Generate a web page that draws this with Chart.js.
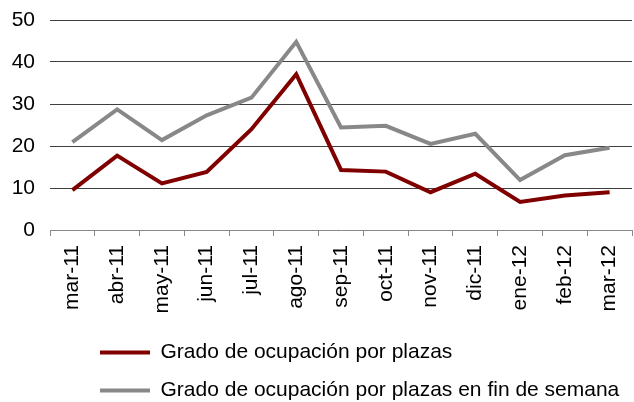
<!DOCTYPE html>
<html>
<head>
<meta charset="utf-8">
<script src="https://cdn.jsdelivr.net/npm/chart.js@4"></script>
<style>
  html, body { margin: 0; padding: 0; background: #fff; }
  #wrap { width: 634px; height: 402px; }
</style>
</head>
<body>
<div id="wrap"><canvas id="ocupacion"></canvas></div>
<script>
// datos
const months = ['mar-11', 'abr-11', 'may-11', 'jun-11', 'jul-11', 'ago-11', 'sep-11',
  'oct-11', 'nov-11', 'dic-11', 'ene-12', 'feb-12', 'mar-12'];
const plazas = [9.5, 17.7, 11.1, 13.8, 24.0, 37.1, 14.3, 13.9, 9.0, 13.4, 6.7, 8.2, 9.0];
const finSemana = [20.9, 28.7, 21.4, 27.3, 31.5, 44.8, 24.4, 24.8, 20.5, 22.9, 11.9, 17.8, 19.6];
const yTicks = [0, 10, 20, 30, 40, 50];

const RED = '#800000';
const GREY = '#888888';
const FONT = 'Liberation Sans, Arial, sans-serif';

// mueve la leyenda para que empiece bajo el eje como en el original
const legendShift = {
  id: 'legendShift',
  afterLayout( chart ) {
    const legend = chart.legend;
    legend.left += 83;
    legend.right += 83;
    legend.top += 9;
    legend.bottom += 9;
  }
};

const canvas = document.querySelector('#ocupacion');

const chart = new Chart( canvas, {
  type: 'line',
  data: {
    labels: months,
    datasets: [{
      label: 'Grado de ocupación por plazas',
      data: plazas,
      borderColor: RED,
      backgroundColor: RED,
      borderWidth: 4,
      pointRadius: 0,
      tension: 0
    }, {
      label: 'Grado de ocupación por plazas en fin de semana',
      data: finSemana,
      borderColor: GREY,
      backgroundColor: GREY,
      borderWidth: 4,
      pointRadius: 0,
      tension: 0
    }]
  },
  options: {
    responsive: true,
    maintainAspectRatio: false,
    animation: false,
    layout: {
      padding: { top: 20, right: 2, left: 0, bottom: 0 }
    },
    scales: {
      x: {
        offset: true,
        afterFit( scale ) {
          scale.height = 86;
          scale.paddingLeft = 0;
          scale.paddingRight = 0;
        },
        grid: {
          offset: true,
          drawOnChartArea: false,
          drawTicks: true,
          tickLength: 6,
          color: GREY
        },
        border: { color: GREY, width: 1 },
        ticks: {
          minRotation: 90,
          maxRotation: 90,
          autoSkip: false,
          padding: 9,
          color: '#000',
          font: { family: FONT, size: 21 }
        }
      },
      y: {
        min: 0,
        max: 50,
        afterFit( scale ) {
          scale.width = 50;
          scale.paddingTop = 0;
          scale.paddingBottom = 0;
        },
        afterBuildTicks( scale ) {
          scale.ticks = yTicks.map( v => ({ value: v }) );
        },
        grid: {
          drawTicks: false,
          color: ( ctx ) => ctx.tick && ctx.tick.value === 0 ? 'rgba(0,0,0,0)' : '#3f3f3f',
          lineWidth: 1
        },
        border: { display: false },
        ticks: {
          padding: 15,
          color: '#000',
          font: { family: FONT, size: 21 }
        }
      }
    },
    plugins: {
      tooltip: { enabled: false },
      legend: {
        position: 'bottom',
        align: 'start',
        labels: {
          boxWidth: 50,
          boxHeight: 4,
          padding: 17,
          color: '#000',
          font: { family: FONT, size: 21 },
          generateLabels( chart ) {
            const items = Chart.defaults.plugins.legend.labels.generateLabels( chart );
            for ( const item of items ) {
              item.lineWidth = 0;
            }
            return items;
          }
        }
      }
    }
  },
  plugins: [ legendShift ]
});
</script>
</body>
</html>
